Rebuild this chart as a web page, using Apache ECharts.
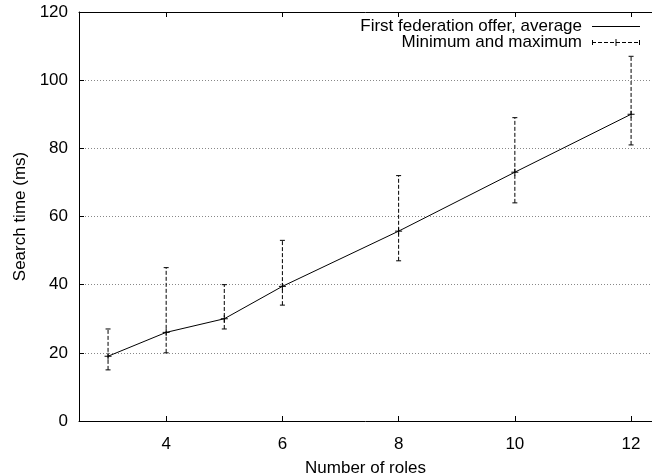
<!DOCTYPE html>
<html>
<head>
<meta charset="utf-8">
<script src="https://cdn.jsdelivr.net/npm/echarts@6/dist/echarts.min.js"></script>
<style>
html,body{margin:0;padding:0;background:#fff;}
#c{width:652px;height:473px;}
</style>
</head>
<body>
<div id="c"></div>
<script>
const roles = [3, 4, 5, 6, 8, 10, 12];
const avgTime = [19, 26, 30, 39.5, 55.7, 73, 90];
const minTime = [15, 20, 27, 34, 47, 64, 81];
const maxTime = [27, 45, 40, 53, 72, 89, 107];
const xTicks = [4, 6, 8, 10, 12];

const FONT = 'Liberation Sans, Arial, Helvetica, sans-serif';
const chart = echarts.init(document.getElementById('c'), null, {renderer: 'canvas'});

const lineData = roles.map((r, i) => [r, avgTime[i]]);
const errData = roles.map((r, i) => [r, minTime[i], maxTime[i], avgTime[i]]);

const option = {
  animation: false,
  backgroundColor: '#fff',
  grid: {left: 79, top: 12, right: 0, bottom: 52, show: false, containLabel: false, outerBoundsMode: 'none'},
  xAxis: [{
    type: 'value', min: 2.5, max: 12.36, position: 'bottom',
    name: 'Number of roles', nameLocation: 'middle', nameGap: 39,
    nameTextStyle: {color: '#000', fontSize: 17, fontFamily: FONT},
    axisLine: {show: true, lineStyle: {color: '#000', width: 1}},
    axisTick: {show: true, inside: true, length: 5, customValues: xTicks, lineStyle: {color: '#000'}},
    axisLabel: {show: true, customValues: xTicks, margin: 15, color: '#000', fontSize: 17, fontFamily: FONT},
    splitLine: {show: false}
  }, {
    type: 'value', min: 2.5, max: 12.36, position: 'top',
    axisLine: {show: true, lineStyle: {color: '#000', width: 1}},
    axisTick: {show: true, inside: true, length: 5, customValues: xTicks, lineStyle: {color: '#000'}},
    axisLabel: {show: false},
    splitLine: {show: false}
  }],
  yAxis: {
    type: 'value', min: 0, max: 120, interval: 20,
    name: 'Search time (ms)', nameLocation: 'middle', nameGap: 44,
    nameTextStyle: {color: '#000', fontSize: 17, fontFamily: FONT},
    axisLine: {show: true, lineStyle: {color: '#000', width: 1}},
    axisTick: {show: true, inside: true, length: 5, lineStyle: {color: '#000'}},
    axisLabel: {margin: 11, color: '#000', fontSize: 17, fontFamily: FONT},
    splitLine: {show: true, lineStyle: {color: '#888', width: 1, type: [1, 2]}}
  },
  series: [{
    type: 'line', data: lineData, xAxisIndex: 0,
    showSymbol: false, symbol: 'none',
    lineStyle: {color: '#000', width: 1}, z: 3
  }, {
    type: 'custom', xAxisIndex: 0, data: errData, z: 4,
    renderItem: function (params, api) {
      const x = api.value(0);
      const lo = api.coord([x, api.value(1)]);
      const hi = api.coord([x, api.value(2)]);
      const mid = api.coord([x, api.value(3)]);
      const cap = 2.5, p = 3.5;
      const st = {stroke: '#000', lineWidth: 1, fill: null};
      const dashed = {stroke: '#000', lineWidth: 1, fill: null, lineDash: [4, 2]};
      return {
        type: 'group',
        children: [
          {type: 'line', shape: {x1: lo[0], y1: lo[1], x2: hi[0], y2: hi[1]}, style: dashed},
          {type: 'line', shape: {x1: lo[0] - cap, y1: lo[1], x2: lo[0] + cap, y2: lo[1]}, style: st},
          {type: 'line', shape: {x1: hi[0] - cap, y1: hi[1], x2: hi[0] + cap, y2: hi[1]}, style: st},
          {type: 'line', shape: {x1: mid[0] - p, y1: mid[1], x2: mid[0] + p, y2: mid[1]}, style: st},
          {type: 'line', shape: {x1: mid[0], y1: mid[1] - p, x2: mid[0], y2: mid[1] + p}, style: st}
        ]
      };
    }
  }],
  graphic: [
    {type: 'text', right: 652 - 582, top: 18, style: {text: 'First federation offer, average', fill: '#000', font: '17px ' + FONT, textAlign: 'right'}},
    {type: 'line', shape: {x1: 592, y1: 26.5, x2: 640, y2: 26.5}, style: {stroke: '#000', lineWidth: 1}},
    {type: 'text', right: 652 - 582, top: 34, style: {text: 'Minimum and maximum', fill: '#000', font: '17px ' + FONT, textAlign: 'right'}},
    {type: 'line', shape: {x1: 592, y1: 42.5, x2: 640, y2: 42.5}, style: {stroke: '#000', lineWidth: 1, lineDash: [4, 2]}},
    {type: 'line', shape: {x1: 592.5, y1: 40, x2: 592.5, y2: 45}, style: {stroke: '#000', lineWidth: 1}},
    {type: 'line', shape: {x1: 639.5, y1: 40, x2: 639.5, y2: 45}, style: {stroke: '#000', lineWidth: 1}},
    {type: 'line', shape: {x1: 616, y1: 39, x2: 616, y2: 46}, style: {stroke: '#000', lineWidth: 1}}
  ]
};
chart.setOption(option);
</script>
</body>
</html>
